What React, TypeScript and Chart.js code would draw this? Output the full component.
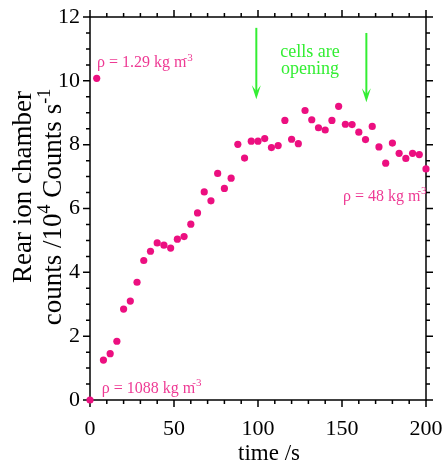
import React, { useEffect, useRef } from "react";
import { Chart, registerables } from "chart.js";

Chart.register(...registerables);

// ---- data ----
const times: number[] = [
  0, 4, 8, 12, 16, 20, 24, 28, 32, 36, 40, 44, 48, 52, 56, 60, 64, 68, 72, 76,
  80, 84, 88, 92, 96, 100, 104, 108, 112, 116, 120, 124, 128, 132, 136, 140,
  144, 148, 152, 156, 160, 164, 168, 172, 176, 180, 184, 188, 192, 196, 200,
];
const counts: number[] = [
  0, 10.08, 1.25, 1.45, 1.84, 2.85, 3.1, 3.69, 4.37, 4.66, 4.92, 4.85, 4.76,
  5.04, 5.12, 5.51, 5.86, 6.52, 6.24, 7.1, 6.63, 6.95, 8.01, 7.58, 8.11, 8.11,
  8.19, 7.91, 7.97, 8.76, 8.17, 8.03, 9.07, 8.78, 8.53, 8.46, 8.76, 9.2, 8.64,
  8.63, 8.39, 8.16, 8.57, 7.93, 7.42, 8.05, 7.73, 7.57, 7.73, 7.69, 7.24,
];
const xTickValues: number[] = [0, 50, 100, 150, 200];
const yTickValues: number[] = [0, 2, 4, 6, 8, 10, 12];
const xAxisTitle = "time /s";
const yAxisTitleLine1 = "Rear ion chamber";
const densityTexts: string[] = ["ρ = 1.29 kg m", "ρ = 48 kg m", "ρ = 1088 kg m"];
const densityExponent = "-3";
const densityAnchorX: number[] = [4.2, 150.6, 7.0];
const densityAnchorY: number[] = [10.42, 6.23, 0.22];
const arrowX: number[] = [99, 164.5];
const arrowTopY: number[] = [11.66, 11.5];
const arrowTipY: number[] = [9.42, 9.33];
const noteLines: string[] = ["cells are", "opening"];
const noteX = 131;
const noteY: number[] = [10.75, 10.2];

const FONT = "'Liberation Serif', 'Times New Roman', serif";
const DOT = "#ec0f80";
const PINK_TEXT = "#ee3a94";
const GREEN = "#33ee33";

type Seg = { t: string; sup?: boolean; dx?: number; size?: number };

function drawRich(
  ctx: CanvasRenderingContext2D,
  segs: Seg[],
  x: number,
  y: number,
  size: number,
  align: "left" | "center"
) {
  ctx.textAlign = "left";
  ctx.textBaseline = "alphabetic";
  const widths = segs.map((s) => {
    const fs = s.size ?? (s.sup ? Math.round(size * 0.65) : size);
    ctx.font = `${fs}px ${FONT}`;
    return ctx.measureText(s.t).width + (s.dx || 0);
  });
  const total = widths.reduce((a, b) => a + b, 0);
  let cx = align === "center" ? x - total / 2 : x;
  segs.forEach((s, i) => {
    const fs = s.size ?? (s.sup ? Math.round(size * 0.65) : size);
    ctx.font = `${fs}px ${FONT}`;
    ctx.fillText(s.t, cx + (s.dx || 0), s.sup ? y - size * 0.42 : y);
    cx += widths[i];
  });
}

const framePlugin = {
  id: "frameAndNotes",
  beforeDatasetsDraw(chart: any) {
    const { ctx, chartArea } = chart;
    const xs = chart.scales.x;
    const ys = chart.scales.y;
    const { left, right, top, bottom } = chartArea;
    ctx.save();
    ctx.strokeStyle = "#000";
    ctx.lineWidth = 1.5;
    ctx.strokeRect(left, top, right - left, bottom - top);
    ctx.beginPath();
    for (let v = 0; v <= 200; v += 10) {
      const px = xs.getPixelForValue(v);
      const len = v % 50 === 0 ? 7 : 4;
      ctx.moveTo(px, bottom);
      ctx.lineTo(px, bottom + len);
      ctx.moveTo(px, top);
      ctx.lineTo(px, top - len);
    }
    for (let v = 0; v <= 12.001; v += 0.5) {
      const py = ys.getPixelForValue(v);
      const len = Math.abs(v % 2) < 1e-6 ? 7 : 4;
      ctx.moveTo(left, py);
      ctx.lineTo(left - len, py);
      ctx.moveTo(right, py);
      ctx.lineTo(right + len, py);
    }
    ctx.stroke();
    ctx.restore();
  },
  afterDraw(chart: any) {
    const { ctx } = chart;
    const xs = chart.scales.x;
    const ys = chart.scales.y;
    ctx.save();
    // x title
    ctx.fillStyle = "#000";
    drawRich(ctx, [{ t: xAxisTitle }], 269, 460, 23, "center");
    // y title (rotated)
    ctx.save();
    ctx.translate(31, 187);
    ctx.rotate(-Math.PI / 2);
    drawRich(ctx, [{ t: yAxisTitleLine1 }], 0, 0, 27, "center");
    ctx.restore();
    ctx.save();
    ctx.translate(61, 207);
    ctx.rotate(-Math.PI / 2);
    drawRich(
      ctx,
      [
        { t: "counts /10" },
        { t: "4", sup: true },
        { t: " Counts s" },
        { t: "-1", sup: true },
      ],
      0,
      0,
      27,
      "center"
    );
    ctx.restore();

    // density labels
    ctx.fillStyle = PINK_TEXT;
    densityTexts.forEach((txt, i) => {
      drawRich(
        ctx,
        [{ t: txt }, { t: densityExponent, sup: true, dx: -3, size: 11 }],
        xs.getPixelForValue(densityAnchorX[i]),
        ys.getPixelForValue(densityAnchorY[i]),
        16,
        "left"
      );
    });

    // arrows
    ctx.strokeStyle = GREEN;
    ctx.fillStyle = GREEN;
    ctx.lineWidth = 2;
    arrowX.forEach((ax, i) => {
      const px = xs.getPixelForValue(ax);
      const y0 = ys.getPixelForValue(arrowTopY[i]);
      const y1 = ys.getPixelForValue(arrowTipY[i]);
      ctx.beginPath();
      ctx.moveTo(px, y0);
      ctx.lineTo(px, y1 - 6);
      ctx.stroke();
      ctx.beginPath();
      ctx.moveTo(px, y1);
      ctx.lineTo(px - 4.5, y1 - 14);
      ctx.lineTo(px, y1 - 8);
      ctx.lineTo(px + 4.5, y1 - 14);
      ctx.closePath();
      ctx.fill();
    });
    // note
    noteLines.forEach((line, i) => {
      drawRich(
        ctx,
        [{ t: line }],
        xs.getPixelForValue(noteX),
        ys.getPixelForValue(noteY[i]),
        18,
        "center"
      );
    });
    ctx.restore();
  },
};

function zeroPadding(scale: any) {
  scale.paddingLeft = 0;
  scale.paddingRight = 0;
  scale.paddingTop = 0;
  scale.paddingBottom = 0;
}

export default function App() {
  const canvasRef = useRef<HTMLCanvasElement | null>(null);

  useEffect(() => {
    if (!canvasRef.current) return;
    const chart = new Chart(canvasRef.current, {
      type: "scatter",
      data: {
        datasets: [
          {
            data: times.map((t, i) => ({ x: t, y: counts[i] })),
            backgroundColor: DOT,
            borderWidth: 0,
            pointRadius: 3.6,
            clip: false as any,
          },
        ],
      },
      options: {
        responsive: false,
        animation: false,
        layout: { padding: { left: 0, top: 17, right: 20, bottom: 0 } },
        plugins: {
          legend: { display: false },
          tooltip: { enabled: false },
        },
        scales: {
          x: {
            type: "linear",
            min: 0,
            max: 200,
            afterBuildTicks: (scale: any) => {
              scale.ticks = xTickValues.map((v) => ({ value: v }));
            },
            afterFit: (scale: any) => {
              scale.height = 66;
              zeroPadding(scale);
            },
            grid: { display: false, drawTicks: false },
            border: { display: false },
            ticks: {
              color: "#000",
              padding: 16,
              maxRotation: 0,
              font: { family: FONT, size: 22 },
            },
          },
          y: {
            type: "linear",
            min: 0,
            max: 12,
            afterBuildTicks: (scale: any) => {
              scale.ticks = yTickValues.map((v) => ({ value: v }));
            },
            afterFit: (scale: any) => {
              scale.width = 90;
              zeroPadding(scale);
            },
            grid: { display: false, drawTicks: false },
            border: { display: false },
            ticks: {
              color: "#000",
              padding: 10,
              font: { family: FONT, size: 22 },
            },
          },
        },
      },
      plugins: [framePlugin],
    });
    return () => chart.destroy();
  }, []);

  return (
    <div style={{ position: "absolute", left: 0, top: 0, width: 446, height: 466, background: "#fff" }}>
      <canvas ref={canvasRef} width={446} height={466} />
    </div>
  );
}
